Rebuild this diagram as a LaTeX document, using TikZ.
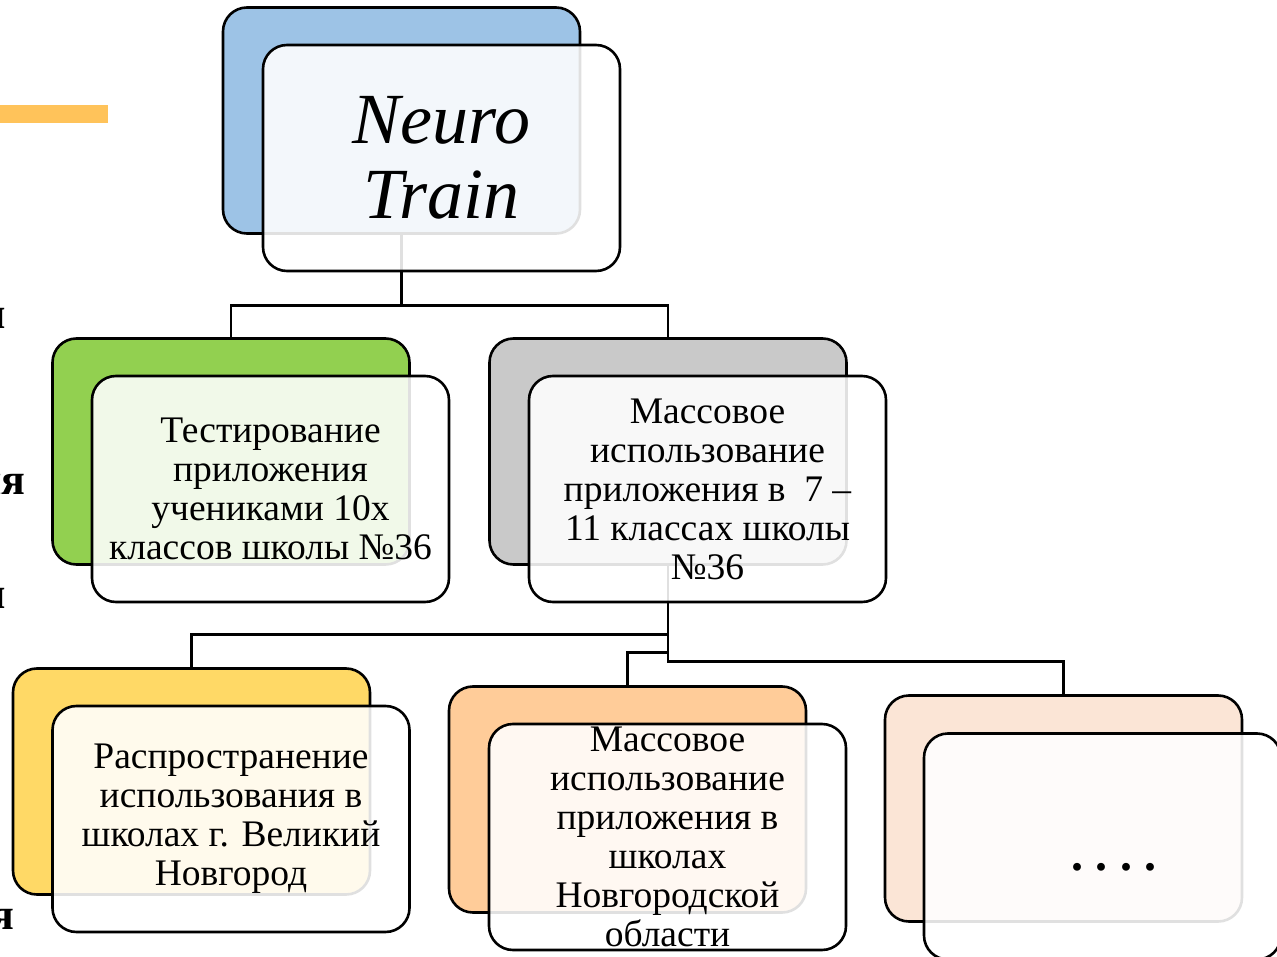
\documentclass[tikz,border=0pt]{standalone}
\usepackage{fontspec}
\setmainfont{Liberation Serif}
\definecolor{cblue}{HTML}{9DC3E6}
\definecolor{cgreen}{HTML}{92D050}
\definecolor{cgray}{HTML}{C9C9C9}
\definecolor{cyellow}{HTML}{FFD966}
\definecolor{corange}{HTML}{FFCC99}
\definecolor{cpeach}{HTML}{FBE5D6}
\definecolor{cbar}{HTML}{FFC35A}
\tikzset{
  backbox/.style={draw=black, line width=2.6pt, rounded corners=24pt,
    minimum width=357pt, minimum height=226pt, inner sep=0pt, outer sep=0pt},
  frontbox/.style={draw=black, line width=2.6pt, rounded corners=24pt,
    fill=white, fill opacity=0.88, draw opacity=1,
    minimum width=357pt, minimum height=226pt, inner sep=0pt, outer sep=0pt},
  boxtext/.style={align=center, inner sep=0pt, font=\fontsize{37.5}{39}\selectfont},
  conn/.style={draw=black, line width=2.6pt},
  edgetext/.style={inner sep=0pt, font=\fontsize{44}{46}\selectfont\bfseries}
}
\begin{document}
\begin{tikzpicture}[x=1pt,y=-1pt]
\useasboundingbox (0,0) rectangle (1277,957);
\fill[white] (0,0) rectangle (1277,957);
% decorative bar and cut-off slide text at the left edge
\fill[cbar] (0,105) rectangle (108,123);
\node[edgetext, anchor=base east] (e1) at (6,329) {и};
\node[edgetext, anchor=base east] (e2) at (26,494) {ия};
\node[edgetext, anchor=base east] (e3) at (6,608) {и};
\node[edgetext, anchor=base east] (e4) at (15,929) {я};
% back boxes
\node[backbox, fill=cblue]   (rootB)   at (401.5,120.5) {};
\node[backbox, fill=cgreen]  (greenB)  at (231,451.5) {};
\node[backbox, fill=cgray]   (grayB)   at (668,451.5) {};
\node[backbox, fill=cyellow] (yellowB) at (191.5,781.5) {};
\node[backbox, fill=corange] (orangeB) at (627.5,799.5) {};
\node[backbox, fill=cpeach]  (peachB)  at (1063.5,808.5) {};
% connectors
\draw[conn] (rootB.south) -- ++(0,72) coordinate (j1) -| (greenB.north);
\draw[conn] (j1) -| (grayB.north);
\draw[conn] (grayB.south) -- ++(0,70) coordinate (j2) -| (yellowB.north);
\draw[conn] (grayB.south) -- ++(0,88) -| (orangeB.north);
\draw[conn] (grayB.south) -- ++(0,97) -| (peachB.north);
% front boxes
\node[frontbox] (rootF)   at (441.5,158) {};
\node[frontbox] (greenF)  at (270.5,489) {};
\node[frontbox] (grayF)   at (707.5,489) {};
\node[frontbox] (yellowF) at (231,819) {};
\node[frontbox] (orangeF) at (667.5,837) {};
\node[frontbox] (peachF)  at (1102.5,846.5) {};
% texts
\node[boxtext, font=\fontsize{72}{75}\selectfont\itshape] (rootT) at (rootF.center) {Neuro\\Train};
\node[boxtext] (greenT) at (greenF.center) {Тестирование\\приложения\\учениками 10х\\классов школы №36};
\node[boxtext] (grayT) at (grayF.center) {Массовое\\использование\\приложения в\ \ 7 –\\11 классах школы\\№36};
\node[boxtext] (yellowT) at (yellowF.center) {Распространение\\использования в\\школах г. Великий\\Новгород};
\node[boxtext] (orangeT) at (orangeF.center) {Массовое\\использование\\приложения в\\школах\\Новгородской\\области};
\node[boxtext, font=\fontsize{48}{50}\selectfont\bfseries, anchor=base] (peachT) at (1114,870) {.\kern12.3pt.\kern12.3pt.\kern12.3pt.};
\end{tikzpicture}
\end{document}
